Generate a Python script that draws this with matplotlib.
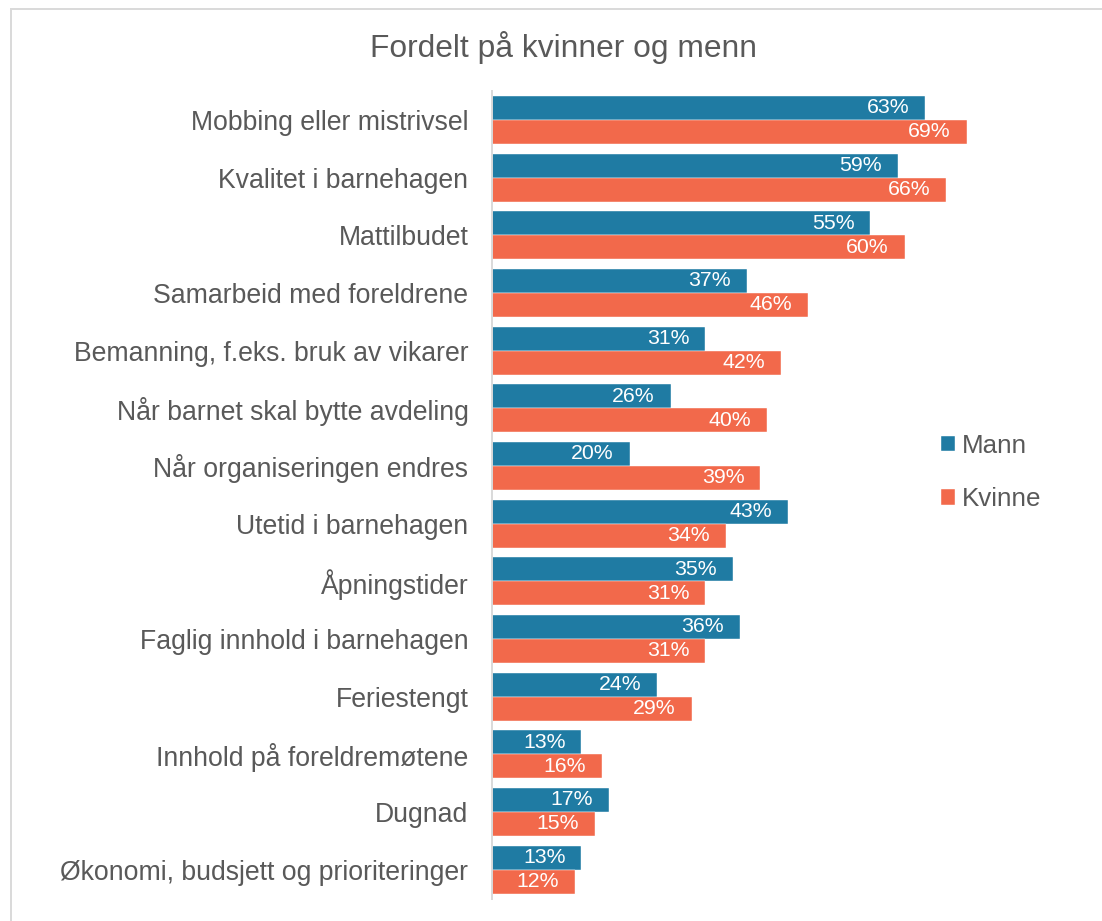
import numpy as np
import matplotlib.pyplot as plt
from matplotlib.patches import Rectangle

plt.rcParams['font.family'] = ['Liberation Sans', 'DejaVu Sans']

title = "Fordelt på kvinner og menn"
categories = [
    "Mobbing eller mistrivsel",
    "Kvalitet i barnehagen",
    "Mattilbudet",
    "Samarbeid med foreldrene",
    "Bemanning, f.eks. bruk av vikarer",
    "Når barnet skal bytte avdeling",
    "Når organiseringen endres",
    "Utetid i barnehagen",
    "Åpningstider",
    "Faglig innhold i barnehagen",
    "Feriestengt",
    "Innhold på foreldremøtene",
    "Dugnad",
    "Økonomi, budsjett og prioriteringer",
]
mann = [63, 59, 55, 37, 31, 26, 20, 43, 35, 36, 24, 13, 17, 13]
kvinne = [69, 66, 60, 46, 42, 40, 39, 34, 31, 31, 29, 16, 15, 12]
series_names = ["Mann", "Kvinne"]

blue = "#1f7ba3"
orange = "#f2694b"
grey_text = "#595959"
grey_line = "#d9d9d9"

W, H = 1102, 921
fig = plt.figure(figsize=(W / 100, H / 100), dpi=100)

# axes placed so the bars land where they are in the reference
left, right = 492 / W, 973.6 / W
top, bottom = 1 - 91 / H, 1 - 898.5 / H
ax = fig.add_axes([left, bottom, right - left, top - bottom])

y = np.arange(len(categories))
h = 0.416
b1 = ax.barh(y - h / 2, mann, height=h, color=blue, label=series_names[0],
             edgecolor="white", linewidth=0.3)
b2 = ax.barh(y + h / 2, kvinne, height=h, color=orange, label=series_names[1],
             edgecolor="white", linewidth=0.3)

ax.set_xlim(0, 70)
ax.set_ylim(len(categories) - 0.5, -0.5)
ax.set_yticks(y)
ax.set_yticklabels(categories, fontsize=19.2, color=grey_text)
ax.tick_params(axis="y", length=0, pad=17)
ax.set_xticks([])
for s in ["top", "right", "bottom"]:
    ax.spines[s].set_visible(False)
ax.spines["left"].set_color(grey_line)
ax.spines["left"].set_linewidth(1.4)

# value labels inside the end of each bar
for bars, vals in [(b1, mann), (b2, kvinne)]:
    for bar, v in zip(bars, vals):
        yc = bar.get_y() + bar.get_height() / 2
        ax.annotate(f"{v}%", xy=(v, yc), xytext=(-11.5, 0),
                    textcoords="offset points", ha="right", va="center",
                    color="white", fontsize=15.3)

fig.text(563.5 / W, 1 - 48 / H, title, ha="center", va="center",
         fontsize=22.9, color=grey_text)

leg = fig.legend(handles=[b1, b2], labels=series_names,
                 loc="center left", bbox_to_anchor=(941 / W, 1 - 472.5 / H),
                 frameon=False, fontsize=18.7, handlelength=0.54,
                 handleheight=0.54, handletextpad=0.27, labelspacing=1.14,
                 borderpad=0, borderaxespad=0)
for t in leg.get_texts():
    t.set_color(grey_text)

# light outer frame of the chart area
fig.patches.append(Rectangle((10.5 / W, -0.1), 2, 1 - 9 / H + 0.1,
                             transform=fig.transFigure, fill=False,
                             edgecolor=grey_line, linewidth=1.4))

fig.savefig("out.png", dpi=100, facecolor="white")
